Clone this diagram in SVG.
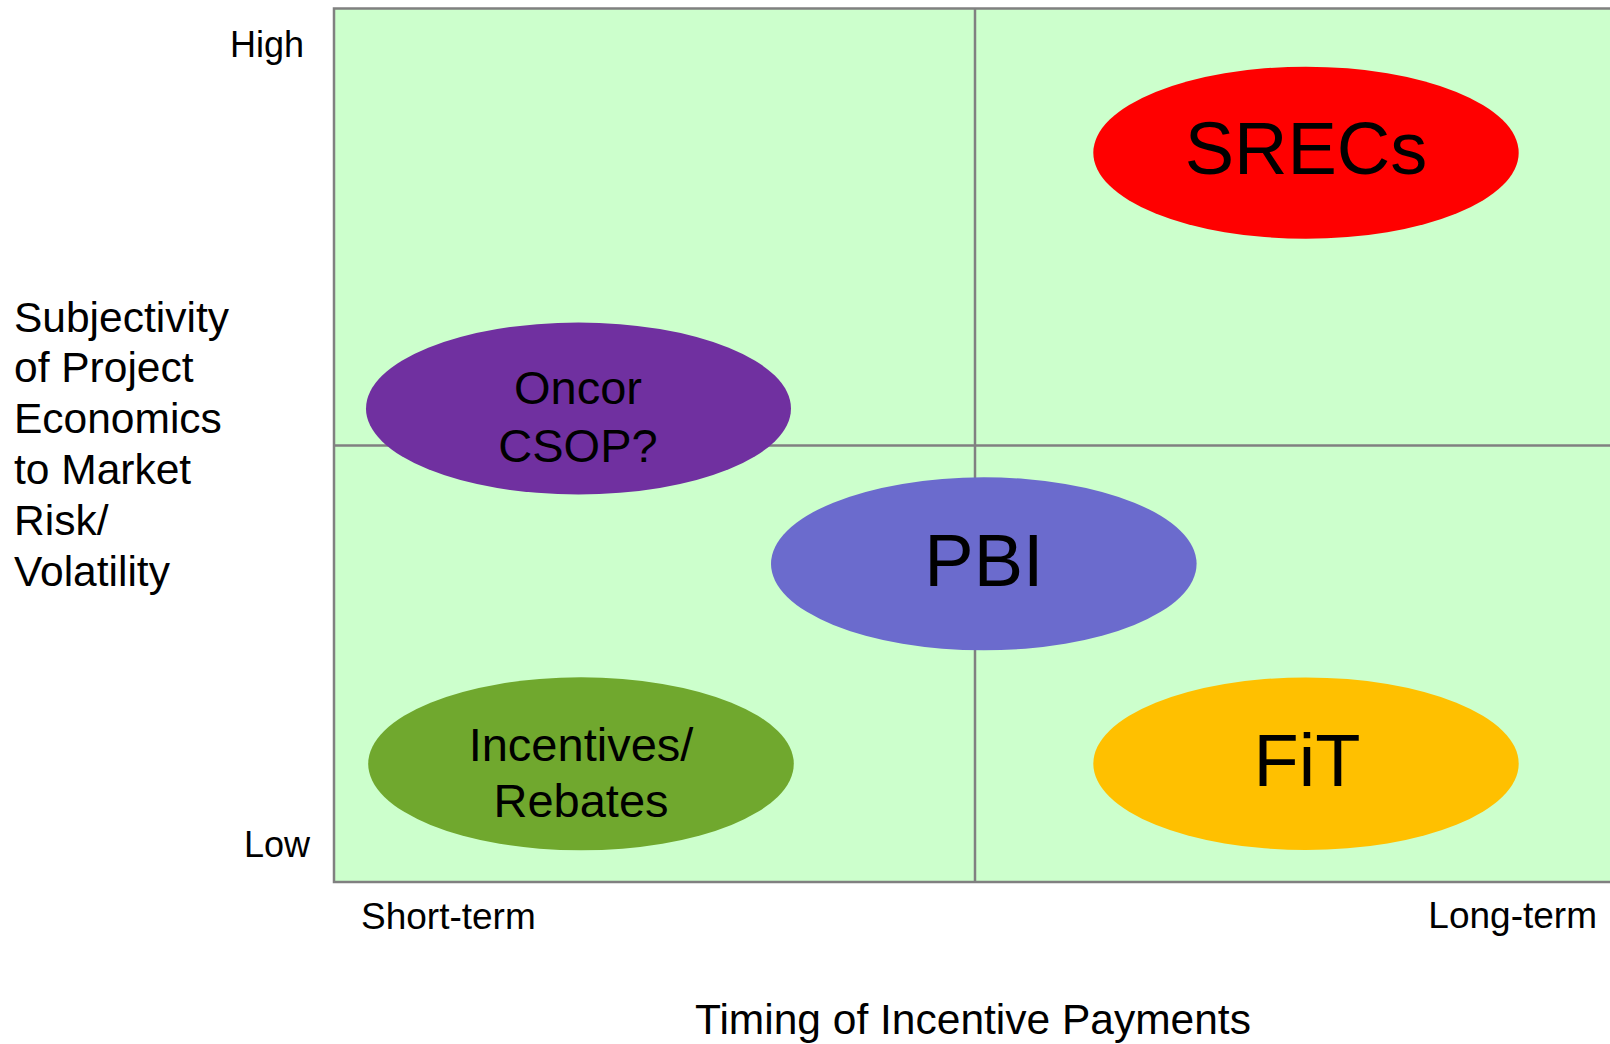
<svg xmlns="http://www.w3.org/2000/svg" width="1610" height="1044" viewBox="0 0 1610 1044">
  <style>
    text { font-family: "Liberation Sans", Arial, sans-serif; fill: #000000; }
    .axis { font-size: 37px; }
    .ylab { font-size: 42.5px; }
    .big { font-size: 74px; text-anchor: middle; }
    .two { font-size: 47px; text-anchor: middle; }
    .grid { stroke: #808080; stroke-width: 2.5; fill: none; }
  </style>

  <!-- plot area with quadrant lines -->
  <g id="plot">
    <rect x="334" y="8.5" width="1300" height="873.5" fill="#CCFFCC" stroke="#808080" stroke-width="2.5"/>
    <line class="grid" x1="975" y1="8.5" x2="975" y2="882"/>
    <line class="grid" x1="334" y1="445.5" x2="1610" y2="445.5"/>
  </g>

  <!-- axis labels -->
  <g id="labels">
    <text class="axis" x="304" y="57" text-anchor="end" style="font-size:36px">High</text>
    <text class="axis" x="310" y="857" text-anchor="end" style="font-size:36px">Low</text>
    <text class="axis" x="361" y="929">Short-term</text>
    <text class="axis" x="1597" y="928" text-anchor="end">Long-term</text>
    <text class="ylab" x="973" y="1034" text-anchor="middle">Timing of Incentive Payments</text>
    <text class="ylab" x="14">
      <tspan x="14" y="332">Subjectivity</tspan>
      <tspan x="14" y="382">of Project</tspan>
      <tspan x="14" y="433">Economics</tspan>
      <tspan x="14" y="484">to Market</tspan>
      <tspan x="14" y="535">Risk/</tspan>
      <tspan x="14" y="586">Volatility</tspan>
    </text>
  </g>

  <g id="srecs">
    <ellipse cx="1306" cy="152.7" rx="212.7" ry="86" fill="#FF0000"/>
    <text class="big" x="1306" y="174">SRECs</text>
  </g>

  <g id="oncor">
    <ellipse cx="578.5" cy="408.5" rx="212.5" ry="86" fill="#7030A0"/>
    <text class="two" x="578" y="404">Oncor</text>
    <text class="two" x="578" y="461.5">CSOP?</text>
  </g>

  <g id="pbi">
    <ellipse cx="983.8" cy="563.8" rx="212.8" ry="86.5" fill="#6B6BCD"/>
    <text class="big" x="984" y="586">PBI</text>
  </g>

  <g id="incentives">
    <ellipse cx="581" cy="763.8" rx="212.8" ry="86.5" fill="#70A82E"/>
    <text class="two" x="581" y="760.5">Incentives/</text>
    <text class="two" x="581" y="816.5">Rebates</text>
  </g>

  <g id="fit">
    <ellipse cx="1306" cy="763.7" rx="212.7" ry="86.3" fill="#FFC000"/>
    <text class="big" x="1307" y="786">FiT</text>
  </g>

  <!-- no connectors in this chart -->
  <g id="connectors"/>
</svg>
